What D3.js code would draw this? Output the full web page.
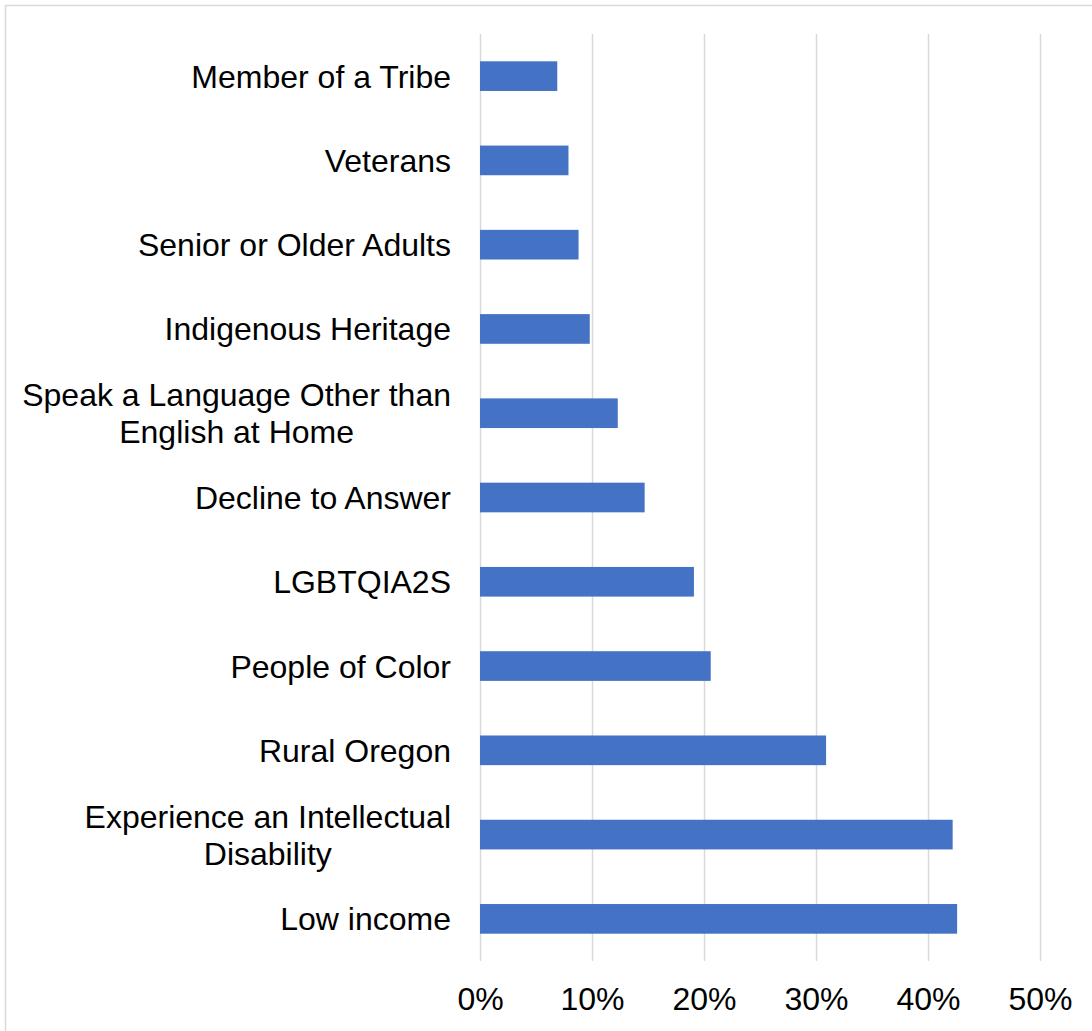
<!DOCTYPE html>
<html>
<head>
<meta charset="utf-8">
<script src="https://cdn.jsdelivr.net/npm/d3@7"></script>
<style>
  html, body { margin: 0; padding: 0; background: #ffffff; }
  svg { display: block; }
</style>
</head>
<body>
<div id="chart"></div>
<script>
const categories = [
  "Member of a Tribe",
  "Veterans",
  "Senior or Older Adults",
  "Indigenous Heritage",
  "Speak a Language Other than English at Home",
  "Decline to Answer",
  "LGBTQIA2S",
  "People of Color",
  "Rural Oregon",
  "Experience an Intellectual Disability",
  "Low income"
];
const values = [0.069, 0.079, 0.088, 0.098, 0.123, 0.147, 0.191, 0.206, 0.309, 0.422, 0.426];
const xTicks = [0, 0.1, 0.2, 0.3, 0.4, 0.5];

(function () {
const W = 1092, H = 1031;
const mLeft = 480, mRight = 1040, mTop = 34, mBottom = 961;
const FONT = "'Liberation Sans', Arial, sans-serif";

const svg = d3.select("#chart").append("svg")
  .attr("width", W).attr("height", H);

svg.append("rect").attr("width", W).attr("height", H).attr("fill", "#fff");

// outer chart border (extends beyond the visible area at right/bottom)
svg.append("rect")
  .attr("x", 5.5).attr("y", 5.5)
  .attr("width", W + 20).attr("height", H + 20)
  .attr("fill", "none").attr("stroke", "#d9d9d9").attr("stroke-width", 1.5);

const x = d3.scaleLinear().domain([0, 0.5]).range([mLeft, mRight]);
const y = d3.scaleBand().domain(categories).range([mTop, mBottom])
  .paddingInner(0.648).paddingOuter(0.324);

// gridlines
const grid = svg.append("g").attr("transform", `translate(0,${mBottom})`)
  .call(d3.axisBottom(x).tickValues(xTicks).tickSize(-(mBottom - mTop)).tickFormat(""));
grid.select(".domain").remove();
grid.selectAll(".tick line").attr("stroke", "#d9d9d9").attr("stroke-width", 1.5);

// bars
svg.append("g").selectAll("rect")
  .data(values)
  .join("rect")
  .attr("x", x(0))
  .attr("y", (d, i) => y(categories[i]))
  .attr("width", d => x(d) - x(0))
  .attr("height", y.bandwidth())
  .attr("fill", "#4472C4");

// x-axis labels
const xa = svg.append("g").attr("transform", `translate(0,${mBottom})`)
  .call(d3.axisBottom(x).tickValues(xTicks).tickSize(0).tickPadding(26)
    .tickFormat(d3.format(".0%")));
xa.select(".domain").remove();
xa.selectAll("text").attr("font-family", FONT).attr("font-size", 32).attr("fill", "#000");

// y-axis labels (wrapped, block right-aligned, lines centred)
const ya = svg.append("g").attr("transform", `translate(${mLeft},0)`)
  .call(d3.axisLeft(y).tickSize(0).tickPadding(29));
ya.select(".domain").remove();
ya.selectAll("text")
  .attr("font-family", FONT).attr("font-size", 32).attr("fill", "#000")
  .each(function() {
    const t = d3.select(this);
    const words = t.text().split(" ");
    const xPos = +t.attr("x");
    const maxW = 435;
    t.text(null).attr("dy", null);
    let lines = [];
    let line = [];
    const tmp = t.append("tspan");
    words.forEach(w => {
      line.push(w);
      tmp.text(line.join(" "));
      if (tmp.node().getComputedTextLength() > maxW && line.length > 1) {
        line.pop();
        lines.push(line.join(" "));
        line = [w];
      }
    });
    lines.push(line.join(" "));
    let widest = 0;
    lines.forEach(l => {
      tmp.text(l);
      widest = Math.max(widest, tmp.node().getComputedTextLength());
    });
    tmp.remove();
    const lh = 37;
    const capOff = 11.5;
    const start = -(lines.length - 1) * lh / 2 + capOff;
    if (lines.length > 1) {
      t.attr("text-anchor", "middle");
      const cx = xPos - widest / 2;
      lines.forEach((l, i) => {
        t.append("tspan").attr("x", cx).attr("y", start + i * lh).text(l);
      });
    } else {
      t.append("tspan").attr("x", xPos).attr("y", start).text(lines[0]);
    }
  });
})();
</script>
</body>
</html>
